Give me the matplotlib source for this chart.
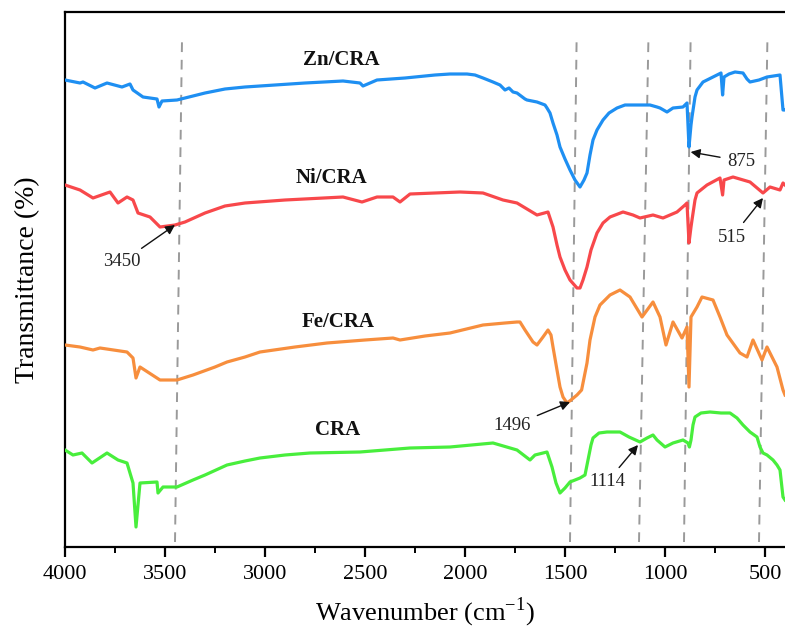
import numpy as np
import matplotlib
matplotlib.use("Agg")
import matplotlib.pyplot as plt
from matplotlib.ticker import MultipleLocator

plt.rcParams['font.family'] = ['Liberation Serif', 'DejaVu Serif']
plt.rcParams['mathtext.fontset'] = 'custom'
plt.rcParams['mathtext.rm'] = 'Liberation Serif'

# ---------------- data (wavenumber, transmittance a.u., offset stacked) ----------------
zn_wn = [4000, 3925, 3910, 3850, 3790, 3715, 3675, 3660, 3610, 3540, 3530, 3515, 3440, 3400,
         3300, 3200, 3100, 2950, 2800, 2610, 2525, 2510, 2440, 2300, 2150, 2075, 1990, 1950,
         1910, 1860, 1825, 1800, 1780, 1760, 1740, 1700, 1690, 1640, 1600, 1590, 1575, 1560,
         1540, 1525, 1500, 1475, 1450, 1425, 1405, 1390, 1375, 1360, 1340, 1310, 1280, 1240,
         1200, 1160, 1075, 1040, 1025, 990, 960, 910, 895, 890, 880, 870, 865, 850, 840, 810,
         770, 740, 720, 712, 705, 680, 650, 610, 590, 575, 530, 490, 425, 410, 400]
zn_t = [465, 462, 463, 457, 462, 458, 461, 455, 448, 446, 438, 444, 445, 447,
        452, 456, 458, 460, 462, 464, 462, 459, 465, 467, 470, 471, 471, 470,
        467, 463, 460, 455, 457, 453, 452, 446, 445, 443, 440, 437, 432, 422,
        410, 398, 386, 375, 365, 358, 365, 372, 390, 405, 415, 425, 432, 437,
        440, 440, 440, 438, 437, 433, 437, 438, 441, 442, 398, 420, 428, 448, 455, 463,
        467, 470, 472, 450, 468, 471, 473, 472, 466, 463, 465, 468, 470, 435, 435]

ni_wn = [4000, 3925, 3860, 3775, 3735, 3690, 3660, 3635, 3575, 3525, 3450, 3400, 3300, 3200,
         3100, 2900, 2610, 2515, 2440, 2360, 2325, 2275, 2025, 1910, 1810, 1740, 1640, 1585,
         1560, 1540, 1525, 1500, 1475, 1440, 1425, 1410, 1390, 1370, 1340, 1310, 1275, 1210,
         1160, 1125, 1060, 1010, 940, 900, 890, 880, 870, 865, 850, 840, 790, 725, 712, 705,
         660, 575, 510, 475, 425, 410, 400]
ni_t = [360, 355, 347, 353, 342, 348, 345, 332, 328, 318, 320, 323, 332, 339,
        342, 345, 348, 343, 348, 348, 343, 351, 353, 352, 345, 342, 330, 333,
        318, 300, 288, 275, 265, 257, 257, 265, 278, 295, 312, 322, 328, 333,
        330, 327, 330, 327, 333, 340, 342, 302, 318, 325, 345, 352, 360, 367, 350, 365,
        368, 363, 352, 358, 355, 362, 360]

fe_wn = [4000, 3925, 3860, 3825, 3690, 3660, 3645, 3625, 3525, 3440, 3360, 3250, 3190, 3100,
         3025, 2850, 2690, 2500, 2360, 2325, 2200, 2075, 1910, 1800, 1740, 1725, 1700, 1660,
         1640, 1610, 1585, 1570, 1560, 1540, 1525, 1510, 1490, 1470, 1440, 1417, 1390, 1375,
         1350, 1325, 1275, 1225, 1175, 1115, 1060, 1025, 995, 960, 915, 890, 880, 870, 840,
         815, 760, 725, 690, 625, 590, 560, 515, 490, 440, 410, 400]
fe_t = [200, 198, 195, 197, 193, 187, 167, 178, 165, 165, 170, 178, 183, 188,
        193, 198, 202, 205, 207, 205, 209, 212, 220, 222, 223, 223, 215, 203,
        200, 208, 215, 210, 198, 175, 158, 148, 142, 145, 150, 155, 182, 205,
        228, 240, 250, 255, 248, 228, 243, 228, 200, 223, 207, 218, 158, 228, 238,
        248, 245, 228, 210, 192, 188, 205, 185, 198, 178, 155, 150]

cra_wn = [4000, 3960, 3915, 3865, 3790, 3735, 3690, 3660, 3645, 3625, 3540, 3535, 3510, 3440,
          3360, 3300, 3190, 3100, 3025, 2900, 2775, 2525, 2275, 2075, 1860, 1740, 1675, 1650,
          1590, 1565, 1545, 1525, 1500, 1475, 1425, 1400, 1385, 1370, 1360, 1330, 1290, 1225,
          1180, 1125, 1090, 1060, 1040, 1000, 960, 910, 885, 878, 870, 860, 850, 820, 775,
          720, 675, 640, 610, 575, 540, 525, 510, 490, 460, 440, 425, 410, 400]
cra_t = [95, 90, 92, 82, 92, 85, 82, 62, 18, 62, 63, 52, 58, 58,
         65, 70, 80, 84, 87, 90, 92, 93, 97, 98, 102, 95, 85, 90,
         93, 78, 62, 52, 57, 63, 67, 70, 85, 100, 107, 112, 113, 113,
         108, 103, 107, 110, 105, 98, 102, 105, 102, 98, 105, 120, 128, 132, 133,
         132, 132, 127, 120, 113, 108, 98, 92, 90, 85, 80, 75, 48, 45]

series_names = ['Zn/CRA', 'Ni/CRA', 'Fe/CRA', 'CRA']
series_colors = ['#1e8ff2', '#f8484b', '#f78e3d', '#48ee3c']

# dashed marker lines (bottom wavenumber, top wavenumber) – slightly slanted in the original
guide_bottom = [3450, 1475, 1130, 905, 530]
guide_top = [3415, 1442, 1083, 872, 488]

# peak annotations: label, peak position, transmittance at peak, text position
ann_labels = ['875', '3450', '515', '1496', '1114']
ann_peak_wn = [872, 3450, 510, 1475, 1135]
ann_peak_t = [393, 320, 347, 143, 100]
ann_text_wn = [620, 3715, 665, 1765, 1290]
ann_text_t = [384, 283, 308, 119, 63]

# series labels
lab_wn = [2620, 2665, 2635, 2635]
lab_t = [485, 367, 223, 115]

# ---------------- figure ----------------
fig = plt.figure(figsize=(7.85, 6.33), dpi=100)
ax = fig.add_axes([65 / 785, 1 - 547 / 633, 1 - 65 / 785, (547 - 12) / 633])

for wn, t, c in zip([zn_wn, ni_wn, fe_wn, cra_wn], [zn_t, ni_t, fe_t, cra_t], series_colors):
    ax.plot(wn, t, color=c, lw=2.3, solid_joinstyle='round', zorder=3)

for b, tp in zip(guide_bottom, guide_top):
    ax.plot([b, tp], [3, 505], color='#9a9a9a', lw=1.4, ls=(0, (5, 4)), zorder=2)

for name, x, y in zip(series_names, lab_wn, lab_t):
    ax.text(x, y, name, ha='center', va='center', fontsize=15, fontweight='bold', color='#111111')

for lab, px, pt, tx, tt in zip(ann_labels, ann_peak_wn, ann_peak_t, ann_text_wn, ann_text_t):
    ax.annotate(lab, xy=(px, pt), xytext=(tx, tt), ha='center', va='center', fontsize=13.5,
                color='#222222',
                arrowprops=dict(arrowstyle='-|>', color='#111111', lw=1.0, mutation_scale=14,
                                shrinkA=3, shrinkB=0), zorder=5)

ax.set_xlim(4000, 400)
ax.set_ylim(-2, 533)
ax.set_xticks([4000, 3500, 3000, 2500, 2000, 1500, 1000, 500])
ax.xaxis.set_minor_locator(MultipleLocator(250))
ax.tick_params(axis='x', which='major', direction='out', length=7, width=1.6, labelsize=16, pad=6)
ax.tick_params(axis='x', which='minor', direction='out', length=4, width=1.4)
ax.set_yticks([])
for s in ['left', 'bottom', 'top']:
    ax.spines[s].set_linewidth(1.6)
ax.spines['right'].set_visible(False)

ax.set_xlabel('Wavenumber (cm$^{\\mathregular{-1}}$)', fontsize=19, labelpad=8)
ax.set_ylabel('Transmittance (%)', fontsize=20, labelpad=18)

fig.savefig('out.png', dpi=100)
